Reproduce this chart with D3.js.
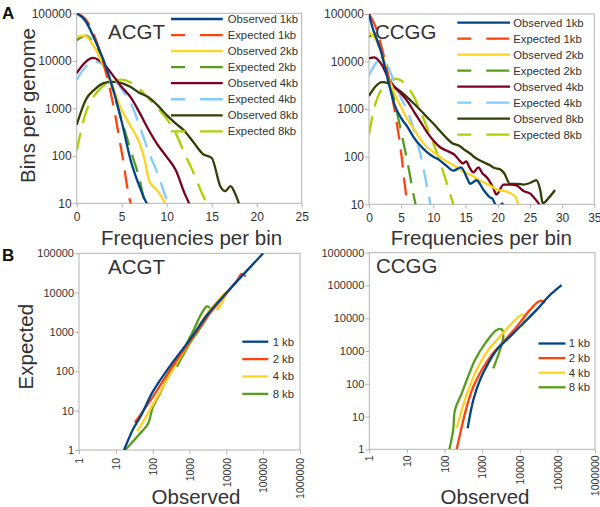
<!DOCTYPE html>
<html>
<head>
<meta charset="utf-8">
<script src="https://cdn.jsdelivr.net/npm/d3@7"></script>
<style>
  body { margin: 0; background: #fff; }
  text { font-family: "Liberation Sans", Arial, sans-serif; }
</style>
</head>
<body>
<svg id="chart" width="600" height="507"></svg>
<script>
// ---- tick values ----
const freqTicksACGT = [0, 5, 10, 15, 20, 25];
const freqTicksCCGG = [0, 5, 10, 15, 20, 25, 30, 35];
const binTicks = [10, 100, 1000, 10000, 100000];
const qqXTicks = [1, 10, 100, 1000, 10000, 100000, 1000000];
const qqYTicksACGT = [1, 10, 100, 1000, 10000, 100000];
const qqYTicksCCGG = [1, 10, 100, 1000, 10000, 100000, 1000000];

// ---- legend labels ----
const distLabels = ["Observed 1kb", "Expected 1kb", "Observed 2kb", "Expected 2kb",
                    "Observed 4kb", "Expected 4kb", "Observed 8kb", "Expected 8kb"];
const qqLabels = ["1 kb", "2 kb", "4 kb", "8 kb"];

// ---- A, ACGT: [frequency per bin, bins per genome] ----
const acgtObs1 = [[0,100000],[1,68000],[2,28000],[3,10000],[4,2700],[5,520],[6,80],[7,22],[7.8,10],[8,9]];
const acgtExp1 = [[0,100000],[1,75000],[2,32000],[3,8500],[4,1350],[5,120],[6,10],[6.2,8]];
const acgtObs2 = [[0,32000],[0.7,34000],[1,33000],[2,19000],[3,7600],[4,2800],[5,920],[6,420],[7,180],[7.5,90],[8.1,28],[8.9,19],[9.6,12],[9.9,9]];
const acgtExp2 = [[0,27000],[1,34000],[2,22000],[3,10000],[4,2500],[5,560],[6,130],[7,31],[7.6,10],[7.8,8]];
const acgtObs4 = [[0,5500],[1,9500],[1.8,11500],[3,8500],[4,5000],[5,2800],[6,1700],[7,800],[8,350],[9,170],[10,95],[11,50],[12,16],[12.6,9]];
const acgtExp4 = [[0,4000],[1,7500],[2,9800],[3,8000],[4,4800],[5,2500],[6,1300],[7,420],[8,120],[9,42],[10,12],[10.3,9]];
const acgtObs8 = [[0,450],[1,1500],[2,2500],[3,3400],[4,3600],[5,3400],[6,2800],[7,2100],[8,1700],[9,1150],[10,720],[11,480],[12,330],[13,190],[14,110],[15,90],[16,22],[16.5,18],[17.1,23],[17.6,16],[18.1,9]];
const acgtExp8 = [[0,130],[1,800],[2,1900],[3,3000],[4,3800],[5,4000],[6,3500],[7,2500],[8,1600],[9,1000],[10,600],[11,300],[12,110],[13,43],[14,15],[14.6,9]];

// ---- A, CCGG ----
const ccggObs1 = [[0,100000],[0.67,46000],[1,35000],[2,14000],[3,3800],[4,1200],[5,650],[6,420],[7,250],[8,170],[9,125],[10,100],[11,84],[12,65],[13.1,51],[14.3,60],[15.3,34],[15.7,27],[16.7,32],[17.8,20],[18.8,14],[19.2,13],[19.6,10],[20.1,8],[20.7,10.5],[21.1,8]];
const ccggExp1 = [[0,100000],[1,55000],[2,19000],[3,5000],[4,900],[5,120],[5.5,30],[6,9]];
const ccggObs2 = [[0,42000],[1,30000],[2,16000],[3,5000],[4,2100],[5,1100],[6,600],[7,380],[8,230],[9,160],[10,125],[11,100],[12,80],[13,68],[14,55],[15,46],[16,40],[17,33],[18,28],[19,24],[20,20],[21,19],[22,17],[22.8,14],[23.3,9]];
const ccggExp2 = [[0,33000],[0.5,36000],[1,32000],[2,13000],[3,4500],[4,1400],[5,330],[6,75],[7,14],[7.3,9]];
const ccggObs4 = [[0,11700],[0.8,12200],[2,8500],[3,4500],[4,2900],[5,2100],[6,1450],[7,880],[8,540],[9,330],[10,220],[11,160],[12,135],[12.6,124],[13.3,110],[14,85],[14.6,72],[15.1,80],[15.6,60],[16.2,47],[17,60],[17.6,45],[18.3,37],[19.3,22],[19.8,16],[20.9,26],[22,26],[22.9,25],[24,19],[25,17],[25.8,13],[26.7,9]];
const ccggExp4 = [[0,5100],[1,9000],[2,11000],[3,7500],[4,3500],[5,1700],[6,900],[7,350],[8,110],[9,24],[9.6,9]];
const ccggObs8 = [[0,1900],[1,3000],[2,3700],[3,3500],[4,2900],[5,2300],[6,1750],[7,1300],[8,950],[9,680],[10,500],[11,350],[12,250],[13,190],[14,170],[15,135],[15.7,117],[16.5,95],[17.5,80],[18.8,66],[19.5,58],[20.3,55],[21,45],[21.9,27],[23,27],[24,26],[25,28],[26,32],[26.6,20],[27,10.5],[28,14],[28.9,20]];
const ccggExp8 = [[0,300],[1,1300],[2,2700],[3,3700],[4,4400],[5,4000],[6,2900],[7,1800],[8,900],[9,420],[10,190],[11,80],[12,30],[13,11],[13.2,9]];

// ---- B, ACGT: [observed, expected] ----
const qqAcgt1 = [[16.7,1],[30,3.5],[50,8],[100,30],[300,140],[1000,620],[3000,2700],[10000,9800],[30000,30000],[100000,100000]];
const qqAcgt2 = [[33,5],[60,11],[100,22],[300,110],[1000,560],[3000,2400],[10000,9500],[20000,21000],[26000,30000],[34000,26000]];
const qqAcgt4 = [[38,3],[60,6],[100,14],[300,85],[1000,550],[3000,2900],[7000,7500],[10000,10500],[8000,6000],[5500,3600]];
const qqAcgt8 = [[18,1],[40,2.3],[76,4.8],[100,12],[177,34],[350,140],[620,300],[1150,900],[2150,3000],[2950,4450],[3600,4000],[3200,2700],[2000,1300],[1000,500],[450,130]];

// ---- B, CCGG ----
const qqCcgg1 = [[412,4.4],[582,32],[875,130],[1450,420],[2430,1070],[5500,2750],[12400,7000],[28000,18000],[63500,51000],[129000,103000]];
const qqCcgg2 = [[210,1],[287,4.9],[390,20],[580,81],[975,263],[1790,755],[3650,1920],[8300,5500],[18700,18000],[34500,34000],[47000,29800]];
const qqCcgg4 = [[210,4.4],[287,16],[430,65],[710,263],[1450,1070],[2970,2750],[6750,7800],[11200,12600],[13000,11700],[12000,5500]];
const qqCcgg8 = [[135,1],[170,3.9],[190,16],[287,51],[390,130],[645,530],[1200,1710],[2430,4380],[3300,4600],[3650,2750],[2970,1070],[1980,295]];

const distColors = ["#004586", "#ff420e", "#ffd320", "#579d1c", "#7e0021", "#83caff", "#314004", "#aecf00"];
const qqColors = ["#004586", "#ff420e", "#ffd320", "#579d1c"];

const grey = "#b3b3b3";
const ink = "#333";
const svg = d3.select("#chart");

function styleAxis(a, size) {
  a.attr("font-family", null).attr("font-size", null);
  a.select(".domain").remove();
  a.selectAll("line").attr("stroke", grey);
  a.selectAll("text").attr("fill", ink).style("font-size", size + "px");
}

function drawPanel(p) {
  const g = svg.append("g");
  const x = (p.xLog ? d3.scaleLog() : d3.scaleLinear()).domain(p.xDomain).range([p.left, p.right]);
  const y = d3.scaleLog().domain(p.yDomain).range([p.bottom, p.top]);

  svg.append("clipPath").attr("id", "clip" + p.id)
    .append("rect")
    .attr("x", p.left).attr("y", p.top)
    .attr("width", p.right - p.left).attr("height", p.bottom - p.top);

  g.append("rect")
    .attr("x", p.left).attr("y", p.top)
    .attr("width", p.right - p.left).attr("height", p.bottom - p.top)
    .attr("fill", "none").attr("stroke", grey);

  g.append("g")
    .attr("transform", `translate(${p.left},0)`)
    .call(d3.axisLeft(y).tickValues(p.yTicks).tickFormat(d3.format("d")).tickSizeOuter(0).tickSize(4).tickPadding(1))
    .call(a => styleAxis(a, p.yFont));

  const xa = g.append("g")
    .attr("transform", `translate(0,${p.bottom})`)
    .call(d3.axisBottom(x).tickValues(p.xTicks).tickFormat(d3.format("d")).tickSizeOuter(0).tickSize(4).tickPadding(5))
    .call(a => styleAxis(a, p.xFont));
  if (p.xRotate) {
    xa.selectAll("text")
      .attr("transform", "rotate(-90)")
      .attr("text-anchor", "end")
      .attr("x", -p.xLabelOff).attr("y", 0).attr("dy", "0.35em");
  }

  const line = d3.line().x(d => x(d[0])).y(d => y(d[1])).curve(p.curve);
  const plot = g.append("g").attr("clip-path", `url(#clip${p.id})`);
  // first series ends up on top
  p.series.slice().reverse().forEach(s => {
    plot.append("path")
      .attr("d", line(s.data))
      .attr("fill", "none")
      .attr("stroke", s.color)
      .attr("stroke-width", 2.3)
      .attr("stroke-dasharray", s.dash ? "18,10" : null);
  });

  const lg = g.append("g");
  p.series.forEach((s, i) => {
    const ly = p.legend.y0 + i * p.legend.dy;
    lg.append("line")
      .attr("x1", p.legend.x1).attr("x2", p.legend.x2)
      .attr("y1", ly).attr("y2", ly)
      .attr("stroke", s.color).attr("stroke-width", 2.3)
      .attr("stroke-dasharray", s.dash ? "14,15,23" : null);
    lg.append("text")
      .attr("x", p.legend.tx).attr("y", ly).attr("dy", "0.35em")
      .attr("fill", ink).style("font-size", "11.3px")
      .text(s.label);
  });

  g.append("text")
    .attr("x", p.title.x).attr("y", p.title.y)
    .attr("fill", ink).style("font-size", "20.5px")
    .text(p.title.text);
}

const distData = [
  [acgtObs1, acgtExp1, acgtObs2, acgtExp2, acgtObs4, acgtExp4, acgtObs8, acgtExp8],
  [ccggObs1, ccggExp1, ccggObs2, ccggExp2, ccggObs4, ccggExp4, ccggObs8, ccggExp8]
];
const distSeries = k => distData[k].map((d, i) => ({
  data: d, color: distColors[i], dash: i % 2 === 1, label: distLabels[i]
}));
const qqSeries = arr => arr.map((d, i) => ({ data: d, color: qqColors[i], dash: false, label: qqLabels[i] }));

drawPanel({
  id: "a1", left: 76.7, right: 301.7, top: 13.3, bottom: 203.3,
  xDomain: [0, 25], yDomain: [10, 100000], xTicks: freqTicksACGT, yTicks: binTicks,
  xFont: 12, yFont: 12, curve: d3.curveMonotoneX,
  series: distSeries(0),
  legend: { x1: 171, x2: 222.7, tx: 227.7, y0: 19, dy: 16.05 },
  title: { text: "ACGT", x: 108, y: 39.3 }
});
drawPanel({
  id: "a2", left: 369, right: 594.3, top: 14, bottom: 204.3,
  xDomain: [0, 35], yDomain: [10, 100000], xTicks: freqTicksCCGG, yTicks: binTicks,
  xFont: 12, yFont: 12, curve: d3.curveMonotoneX,
  series: distSeries(1),
  legend: { x1: 457.3, x2: 510, tx: 513.3, y0: 22.7, dy: 16 },
  title: { text: "CCGG", x: 375, y: 39 }
});
drawPanel({
  id: "b1", left: 79, right: 300, top: 253.3, bottom: 450, xLog: true,
  xDomain: [1, 1000000], yDomain: [1, 100000], xTicks: qqXTicks, yTicks: qqYTicksACGT,
  xFont: 10.5, yFont: 11, xRotate: true, xLabelOff: 8, curve: d3.curveCatmullRom.alpha(0.5),
  series: qqSeries([qqAcgt1, qqAcgt2, qqAcgt4, qqAcgt8]),
  legend: { x1: 242.3, x2: 268.3, tx: 272.7, y0: 341.7, dy: 17.4 },
  title: { text: "ACGT", x: 108, y: 274.3 }
});
drawPanel({
  id: "b2", left: 369.3, right: 595, top: 252.7, bottom: 449.3, xLog: true,
  xDomain: [1, 1000000], yDomain: [1, 1000000], xTicks: qqXTicks, yTicks: qqYTicksCCGG,
  xFont: 10.5, yFont: 11, xRotate: true, xLabelOff: 6, curve: d3.curveCatmullRom.alpha(0.5),
  series: qqSeries([qqCcgg1, qqCcgg2, qqCcgg4, qqCcgg8]),
  legend: { x1: 538.5, x2: 565.5, tx: 568.7, y0: 343.5, dy: 14.6 },
  title: { text: "CCGG", x: 376, y: 273.3 }
});

// axis titles
const axisTitles = [
  { text: "Bins per genome", x: 34.5, y: 105.5, rot: true },
  { text: "Frequencies per bin", x: 191.5, y: 244.5, rot: false },
  { text: "Frequencies per bin", x: 481.3, y: 244.5, rot: false },
  { text: "Expected", x: 33, y: 346.7, rot: true },
  { text: "Observed", x: 196, y: 504, rot: false },
  { text: "Observed", x: 485, y: 504, rot: false }
];
svg.selectAll("text.axis-title")
  .data(axisTitles)
  .enter()
  .append("text")
  .attr("class", "axis-title")
  .attr("transform", d => `translate(${d.x},${d.y})` + (d.rot ? " rotate(-90)" : ""))
  .attr("text-anchor", "middle")
  .attr("fill", ink)
  .style("font-size", "20.5px")
  .text(d => d.text);

// panel letters
svg.append("text").attr("x", 2).attr("y", 18.5)
  .style("font-size", "17px").style("font-weight", "bold").attr("fill", "#111").text("A");
svg.append("text").attr("x", 2).attr("y", 261)
  .style("font-size", "17px").style("font-weight", "bold").attr("fill", "#111").text("B");
</script>
</body>
</html>
